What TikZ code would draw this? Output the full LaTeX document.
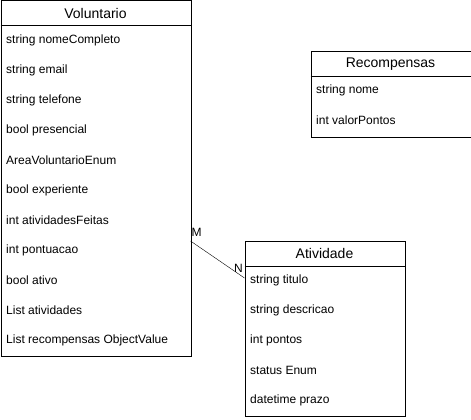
\documentclass[tikz,border=0pt]{standalone}
\usepackage{fontspec}
\setmainfont{Liberation Sans}

\tikzset{
  classbox/.style={draw, rectangle, line width=1pt, anchor=north west, inner sep=0pt},
  title/.style={inner sep=0pt, font=\fontsize{14}{16}\selectfont},
  field/.style={anchor=west, inner sep=0pt, font=\fontsize{12}{14}\selectfont},
  mult/.style={inner sep=0pt, font=\fontsize{12}{14}\selectfont}
}

\begin{document}
\begin{tikzpicture}[x=1pt, y=-1pt]
            \useasboundingbox (0,0) rectangle (471,420);

            \node[classbox, minimum width=190pt, minimum height=355.5pt] (V) at (0.5,0.5) {};
            \node[classbox, minimum width=160pt, minimum height=85.5pt] (R) at (310.5,51) {};
            \node[classbox, minimum width=160pt, minimum height=175.5pt] (A) at (244.5,240.5) {};

            \draw[line width=1pt] ([yshift=-25.5pt]V.north west) -- ([yshift=-25.5pt]V.north east);
            \draw[line width=1pt] ([yshift=-25.5pt]R.north west) -- ([yshift=-25.5pt]R.north east);
            \draw[line width=1pt] ([yshift=-25.5pt]A.north west) -- ([yshift=-25.5pt]A.north east);

            \node[title] (Vt) at (95.5,13.5) {Voluntario};
            \node[title] (Rt) at (390.5,64) {Recompensas};
            \node[title] (At) at (324.5,253.5) {Atividade};

            \node[field] (V1) at (6,40) {string nomeCompleto};
            \node[field] (V2) at (6,70) {string email};
            \node[field] (V3) at (6,100) {string telefone};
            \node[field] (V4) at (6,130) {bool presencial};
            \node[field] (V5) at (6,160) {AreaVoluntarioEnum};
            \node[field] (V6) at (6,190) {bool experiente};
            \node[field] (V7) at (6,220) {int atividadesFeitas};
            \node[field] (V8) at (6,250) {int pontuacao};
            \node[field] (V9) at (6,280) {bool ativo};
            \node[field] (V10) at (6,310) {List atividades};
            \node[field] (V11) at (6,340) {List recompensas ObjectValue};

            \node[field] (R1) at (316,90) {string nome};
            \node[field] (R2) at (316,120) {int valorPontos};

            \node[field] (A1) at (250,280) {string titulo};
            \node[field] (A2) at (250,310) {string descricao};
            \node[field] (A3) at (250,340) {int pontos};
            \node[field] (A4) at (250,370) {status Enum};
            \node[field] (A5) at (250,400) {datetime prazo};

            \coordinate (vm) at (190.5,241);
            \coordinate (an) at (244.5,278);
            \draw (vm) -- (an);
            \node[mult] (M) at (196.5,232) {M};
            \node[mult] (N) at (238.5,268) {N};
        \end{tikzpicture}
\end{document}
